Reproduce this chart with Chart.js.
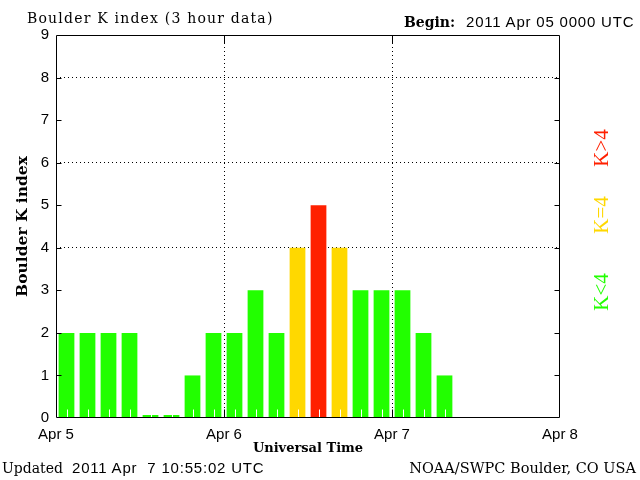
<!DOCTYPE html>
<html>
<head>
<meta charset="utf-8">
<script src="https://cdn.jsdelivr.net/npm/chart.js@4/dist/chart.umd.min.js"></script>
<style>
  html, body { margin: 0; padding: 0; background: #fff; }
  #wrap { position: relative; width: 640px; height: 480px; overflow: hidden; background: #fff; }
  canvas { position: absolute; left: 0; top: 0; }
  .t { position: absolute; white-space: pre; color: #000; line-height: 18px; }
  .serif { font-family: "DejaVu Serif", serif; }
  .sans { font-family: "Liberation Sans", Arial, sans-serif; }
  .k { position: absolute; white-space: pre; font-family: "Liberation Serif", serif; font-size: 21px; line-height: 22px;
       transform: translate(-50%, -50%) rotate(-90deg); }
</style>
</head>
<body>
<div id="wrap">
  <canvas id="c" width="640" height="480"></canvas>
  <div class="t serif" style="left:27px; top:9px; font-size:14px; letter-spacing:1.2px;">Boulder K index (3 hour data)</div>
  <div class="t serif" style="left:404px; top:13px; font-size:14px; font-weight:bold;">Begin:</div>
  <div class="t sans" style="left:466px; top:13px; font-size:15px; letter-spacing:0.8px;">2011 Apr 05 0000 UTC</div>
  <div class="t serif" style="left:2px; top:459px; font-size:14px;">Updated</div>
  <div class="t sans" style="left:72px; top:459px; font-size:15px; letter-spacing:0.8px;">2011 Apr  7 10:55:02 UTC</div>
  <div class="t serif" style="right:4px; top:459px; font-size:14.5px;">NOAA/SWPC Boulder, CO USA</div>
  <div class="k" style="left:601px; top:148px; color:#ff2000;">K&gt;4</div>
  <div class="k" style="left:601px; top:215px; color:#ffd800;">K=4</div>
  <div class="k" style="left:601px; top:292px; color:#22ff00;">K&lt;4</div>
</div>
<script>
// ---- data ----
const dayLabels = ['Apr 5', 'Apr 6', 'Apr 7', 'Apr 8'];
const slotHours = [1.5, 4.5, 7.5, 10.5, 13.5, 16.5, 19.5, 22.5, 25.5, 28.5, 31.5, 34.5, 37.5, 40.5, 43.5, 46.5, 49.5, 52.5, 55.5];
const kValues   = [2, 2, 2, 2, 0, 0, 1, 2, 2, 3, 2, 4, 5, 4, 3, 3, 3, 2, 1];
const gridKValues = [4, 6, 8];
const gridDayHours = [24, 48];

const GREEN = '#22ff00', YELLOW = '#ffd800', RED = '#ff2000';
const barColors = kValues.map(v => v > 4 ? RED : (v === 4 ? YELLOW : GREEN));

const decor = {
  id: 'decor',
  afterDatasetsDraw(chart) {
    const { ctx, chartArea: a, scales: { x, y } } = chart;
    const L = Math.round(a.left) + 0.5, R = Math.round(a.right) - 0.5;
    const T = Math.round(a.top) + 0.5, B = Math.round(a.bottom) - 0.5;
    ctx.save();
    ctx.lineWidth = 1;
    // white ticks at bar centres
    ctx.strokeStyle = '#fff';
    chart.getDatasetMeta(0).data.forEach(bar => {
      const px = Math.round(bar.x) + 0.5;
      ctx.beginPath(); ctx.moveTo(px, B); ctx.lineTo(px, B - 8); ctx.stroke();
    });
    // frame
    ctx.strokeStyle = '#000';
    ctx.beginPath();
    ctx.moveTo(L, T); ctx.lineTo(R, T); ctx.lineTo(R, B); ctx.lineTo(L, B); ctx.closePath();
    ctx.stroke();
    // inward y ticks
    y.ticks.forEach(t => {
      if (t.value <= y.min || t.value >= y.max) return;
      const py = Math.round(y.getPixelForValue(t.value)) + 0.5;
      ctx.beginPath();
      ctx.moveTo(L, py); ctx.lineTo(L + 5, py);
      ctx.moveTo(R, py); ctx.lineTo(R - 5, py);
      ctx.stroke();
    });
    // inward x ticks
    x.ticks.forEach(t => {
      if (t.value <= x.min || t.value >= x.max) return;
      const px = Math.round(x.getPixelForValue(t.value)) + 0.5;
      ctx.beginPath();
      ctx.moveTo(px, T); ctx.lineTo(px, T + 8);
      ctx.moveTo(px, B); ctx.lineTo(px, B - 8);
      ctx.stroke();
    });
    ctx.restore();
  }
};

new Chart(document.getElementById('c'), {
  type: 'bar',
  data: {
    datasets: [{
      data: slotHours.map((h, i) => ({ x: h, y: kValues[i] })),
      backgroundColor: barColors,
      borderWidth: 0,
      minBarLength: 3,
      barPercentage: 0.75,
      categoryPercentage: 1.0
    }]
  },
  options: {
    responsive: false,
    animation: false,
    events: [],
    layout: { padding: { left: 0, right: 80, top: 35, bottom: 20 } },
    plugins: { legend: { display: false }, tooltip: { enabled: false }, title: { display: false } },
    scales: {
      x: {
        type: 'linear',
        offset: false,
        min: 0, max: 72,
        afterFit: s => { s.height = 42; },
        afterBuildTicks: s => { s.ticks = dayLabels.map((_, i) => ({ value: i * 24 })); },
        ticks: {
          stepSize: 24, autoSkip: false, maxRotation: 0, padding: 8,
          color: '#000',
          font: { family: 'Liberation Sans', size: 15 },
          callback: v => dayLabels[v / 24]
        },
        grid: {
          offset: false,
          drawTicks: false,
          lineWidth: 1,
          color: c => (c.tick && gridDayHours.includes(c.tick.value)) ? '#000' : 'rgba(0,0,0,0)'
        },
        border: { display: false, dash: [1, 3] },
        title: {
          display: true, text: 'Universal Time', color: '#000',
          font: { family: 'DejaVu Serif', size: 13, weight: 'bold' },
          padding: { top: 0, bottom: 4 }
        }
      },
      y: {
        min: 0, max: 9,
        afterFit: s => { s.width = 56; },
        ticks: {
          stepSize: 1, padding: 7, color: '#000',
          font: { family: 'Liberation Sans', size: 15 }
        },
        grid: {
          drawTicks: false,
          lineWidth: 1,
          color: c => (c.tick && gridKValues.includes(c.tick.value)) ? '#000' : 'rgba(0,0,0,0)'
        },
        border: { display: false, dash: [1, 3] },
        title: {
          display: true, text: 'Boulder K index', color: '#000',
          font: { family: 'DejaVu Serif', size: 15.5, weight: 'bold' },
          padding: { top: 14, bottom: 0 }
        }
      }
    }
  },
  plugins: [decor]
});
</script>
</body>
</html>
